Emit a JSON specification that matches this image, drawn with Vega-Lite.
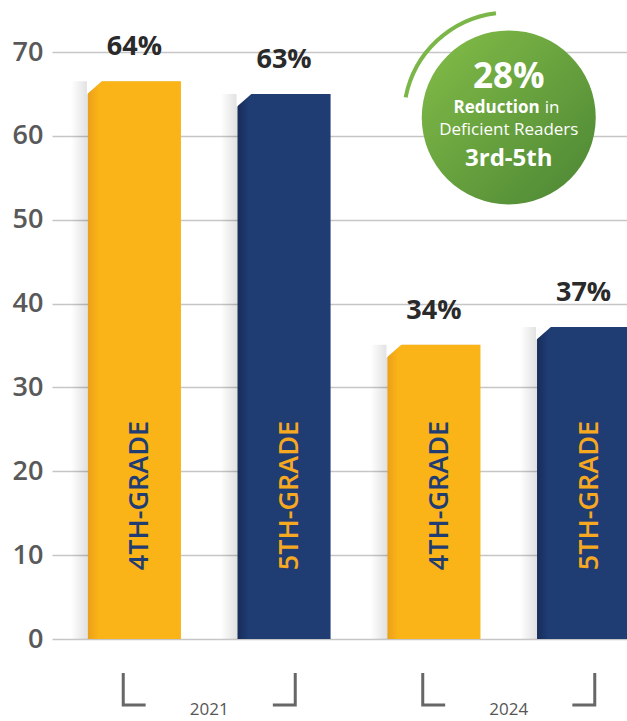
{
  "$schema": "https://vega.github.io/schema/vega-lite/v6.json",
  "width": 614,
  "height": 587,
  "autosize": {"type": "none"},
  "padding": {"left": 52, "top": 52, "right": 0, "bottom": 82},
  "background": "white",
  "config": {"view": {"stroke": null}, "font": "Open Sans"},
  "datasets": {
    "bars": [
      {"year": "2021", "grade": "4TH-GRADE", "value": 66.5, "label": "64%"},
      {"year": "2021", "grade": "5TH-GRADE", "value": 65.0, "label": "63%"},
      {"year": "2024", "grade": "4TH-GRADE", "value": 35.1, "label": "34%"},
      {"year": "2024", "grade": "5TH-GRADE", "value": 37.2, "label": "37%"}
    ],
    "years": [{"year": "2021"}, {"year": "2024"}],
    "badge": [{"year": "2024", "pct": "28%", "w1": "Reduction", "w2": "in", "line2": "Deficient Readers", "line3": "3rd-5th"}]
  },
  "data": {"name": "bars"},
  "layer": [
    {
      "mark": {"type": "bar", "width": 127, "fill": {"gradient": "linear", "x1": 0, "y1": 0, "x2": 1, "y2": 0, "stops": [
        {"offset": 0, "color": "rgba(0,0,0,0)"},
        {"offset": 0.134, "color": "rgba(0,0,0,0.12)"},
        {"offset": 0.85, "color": "rgba(0,0,0,0.12)"},
        {"offset": 0.866, "color": "rgba(0,0,0,0)"},
        {"offset": 1, "color": "rgba(0,0,0,0)"}]}},
      "encoding": {
        "x": {"field": "year", "type": "nominal", "scale": {"paddingInner": 0, "paddingOuter": 0.025}, "axis": null},
        "xOffset": {"field": "grade", "type": "nominal", "scale": {"paddingInner": 0.378, "paddingOuter": 0.19}},
        "y": {"field": "value", "type": "quantitative", "scale": {"domain": [0, 70], "nice": false},
          "axis": {"values": [0, 10, 20, 30, 40, 50, 60, 70], "grid": true, "gridColor": "#c6c6c6", "gridWidth": 1.3,
            "domain": false, "ticks": false, "tickSize": 0, "labelPadding": 9, "labelFont": "Open Sans",
            "labelFontSize": 27, "labelFontWeight": 600, "labelColor": "#595959", "title": null}}
      }
    },
    {
      "mark": {"type": "bar"},
      "encoding": {
        "x": {"field": "year", "type": "nominal"},
        "xOffset": {"field": "grade", "type": "nominal"},
        "y": {"field": "value", "type": "quantitative"},
        "color": {
          "condition": {"test": "datum.grade === '4TH-GRADE'", "value": {"gradient": "linear", "x1": 0, "y1": 0, "x2": 1, "y2": 0, "stops": [
            {"offset": 0, "color": "#EBA01A"}, {"offset": 0.12, "color": "#FBB417"}, {"offset": 1, "color": "#FBB417"}]}},
          "value": {"gradient": "linear", "x1": 0, "y1": 0, "x2": 1, "y2": 0, "stops": [
            {"offset": 0, "color": "#172D5A"}, {"offset": 0.12, "color": "#1F3C73"}, {"offset": 1, "color": "#1F3C73"}]}
        }
      }
    },
    {
      "mark": {"type": "point", "shape": "M -0.95 -0.03 L -0.62 -0.03 L -0.95 0.26 Z", "size": 10000, "filled": true, "fill": "white", "strokeWidth": 0, "opacity": 1},
      "encoding": {
        "x": {"field": "year", "type": "nominal"},
        "xOffset": {"field": "grade", "type": "nominal"},
        "y": {"field": "value", "type": "quantitative"}
      }
    },
    {
      "mark": {"type": "text", "font": "Open Sans", "fontSize": 27, "fontWeight": "bold", "color": "#2a2a2a", "baseline": "alphabetic", "dy": -26},
      "encoding": {
        "x": {"field": "year", "type": "nominal"},
        "xOffset": {"field": "grade", "type": "nominal"},
        "y": {"field": "value", "type": "quantitative"},
        "text": {"field": "label"}
      }
    },
    {
      "mark": {"type": "text", "font": "Open Sans", "fontSize": 27, "fontWeight": 600, "angle": 270, "baseline": "middle", "align": "center", "dy": 6},
      "encoding": {
        "x": {"field": "year", "type": "nominal"},
        "xOffset": {"field": "grade", "type": "nominal"},
        "y": {"datum": 17.1},
        "text": {"field": "grade"},
        "color": {"condition": {"test": "datum.grade === '4TH-GRADE'", "value": "#1F3C73"}, "value": "#F6A821"}
      }
    },
    {
      "mark": {"type": "point", "filled": false, "strokeWidth": 3, "stroke": "#676767", "opacity": 1, "size": 1024},
      "encoding": {
        "x": {"field": "year", "type": "nominal"},
        "xOffset": {"field": "grade", "type": "nominal"},
        "y": {"datum": -5.96},
        "shape": {"field": "grade", "type": "nominal", "scale": {"domain": ["4TH-GRADE", "5TH-GRADE"], "range": ["M -0.7 -1 L -0.7 1 L 0.7 1", "M 0.7 -1 L 0.7 1 L -0.7 1"]}, "legend": null}
      }
    },
    {
      "data": {"name": "years"},
      "mark": {"type": "text", "font": "Open Sans", "fontSize": 17, "color": "#555555", "baseline": "middle"},
      "encoding": {
        "x": {"field": "year", "type": "nominal"},
        "y": {"datum": -8.5},
        "text": {"field": "year"}
      }
    },
    {
      "data": {"name": "badge"},
      "mark": {"type": "point", "shape": "M -0.982 -0.191 A 1 1 0 0 1 -0.122 -0.993", "size": 44100, "filled": false, "stroke": "#7AB648", "strokeWidth": 4, "opacity": 1},
      "encoding": {"x": {"field": "year", "type": "nominal"}, "y": {"datum": 62.2}}
    },
    {
      "data": {"name": "badge"},
      "mark": {"type": "point", "shape": "circle", "size": 30276, "filled": true, "opacity": 1, "strokeWidth": 0,
        "fill": {"gradient": "linear", "x1": 0, "y1": 0, "x2": 1, "y2": 1, "stops": [{"offset": 0, "color": "#84BE48"}, {"offset": 1, "color": "#4B8534"}]}},
      "encoding": {"x": {"field": "year", "type": "nominal"}, "y": {"datum": 62.2}}
    },
    {
      "data": {"name": "badge"},
      "mark": {"type": "text", "font": "Open Sans", "fontSize": 35, "fontWeight": "bold", "color": "white", "baseline": "middle", "dy": -40},
      "encoding": {"x": {"field": "year", "type": "nominal"}, "y": {"datum": 62.2}, "text": {"field": "pct"}}
    },
    {
      "data": {"name": "badge"},
      "mark": {"type": "text", "font": "Open Sans", "fontSize": 17, "fontWeight": "bold", "color": "white", "baseline": "middle", "align": "right", "dx": 31, "dy": -9},
      "encoding": {"x": {"field": "year", "type": "nominal"}, "y": {"datum": 62.2}, "text": {"field": "w1"}}
    },
    {
      "data": {"name": "badge"},
      "mark": {"type": "text", "font": "Open Sans", "fontSize": 17, "color": "white", "baseline": "middle", "align": "left", "dx": 36, "dy": -9},
      "encoding": {"x": {"field": "year", "type": "nominal"}, "y": {"datum": 62.2}, "text": {"field": "w2"}}
    },
    {
      "data": {"name": "badge"},
      "mark": {"type": "text", "font": "Open Sans", "fontSize": 17, "color": "white", "baseline": "middle", "dy": 13},
      "encoding": {"x": {"field": "year", "type": "nominal"}, "y": {"datum": 62.2}, "text": {"field": "line2"}}
    },
    {
      "data": {"name": "badge"},
      "mark": {"type": "text", "font": "Open Sans", "fontSize": 24, "fontWeight": "bold", "color": "white", "baseline": "middle", "dy": 42},
      "encoding": {"x": {"field": "year", "type": "nominal"}, "y": {"datum": 62.2}, "text": {"field": "line3"}}
    }
  ]
}
